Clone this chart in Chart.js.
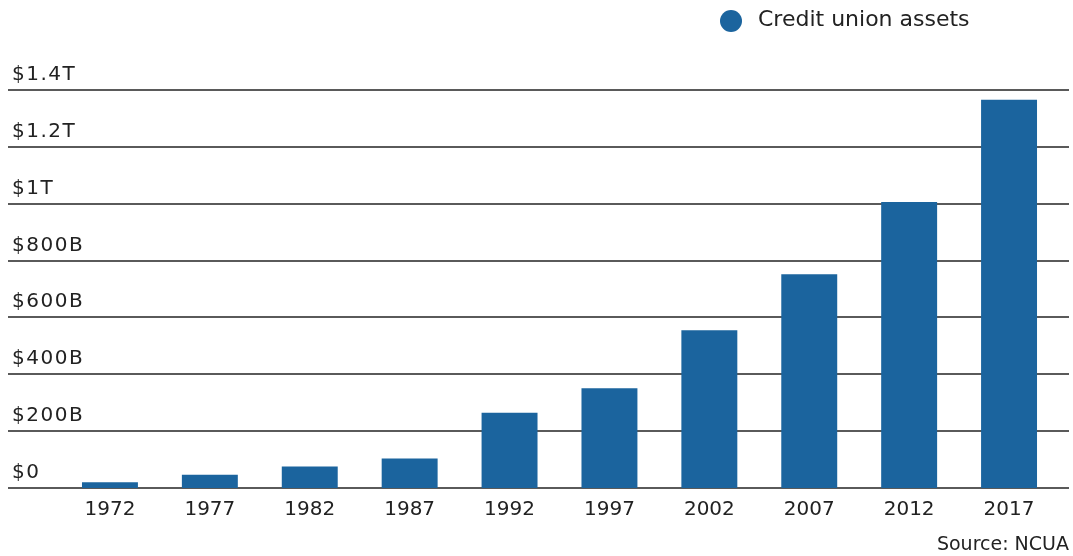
<!DOCTYPE html>
<html>
<head>
<meta charset="utf-8">
<title>Credit union assets</title>
<script src="https://cdn.jsdelivr.net/npm/chart.js@4"></script>
<style>
  html, body { margin: 0; padding: 0; background: #fff; }
  #wrap { width: 1073px; height: 556px; position: relative; }
</style>
</head>
<body>
<div id="wrap"><canvas id="assetsChart"></canvas></div>
<script>
// assets in billions of dollars, every five years
var years = ['1972', '1977', '1982', '1987', '1992', '1997', '2002', '2007', '2012', '2017'];
var assets = [20, 47, 76, 104, 265, 351, 555, 752, 1006, 1366];

var yTicks = [0, 200, 400, 600, 800, 1000, 1200, 1400];
var yTickLabels = ['$0', '$200B', '$400B', '$600B', '$800B', '$1T', '$1.2T', '$1.4T'];

var seriesName = 'Credit union assets';
var sourceNote = 'Source: NCUA';

var barColor = '#1b649e';
var textColor = '#222';
var fontFamily = '"DejaVu Sans", sans-serif';

// grid lines run the full width with the value labels sitting on top of them
var gridAndLabels = {
    id: 'gridAndLabels',
    beforeDatasetsDraw: function (chart) {
        var ctx = chart.ctx;
        var y = chart.scales.y;
        ctx.save();
        yTicks.forEach(function (v, i) {
            var py = Math.round(y.getPixelForValue(v));
            ctx.strokeStyle = '#5a5a5a';
            ctx.lineWidth = 2;
            ctx.beginPath();
            ctx.moveTo(8, py);
            ctx.lineTo(1069, py);
            ctx.stroke();

            ctx.fillStyle = textColor;
            ctx.font = '20px ' + fontFamily;
            ctx.letterSpacing = '1.5px';
            ctx.textAlign = 'left';
            ctx.textBaseline = 'alphabetic';
            ctx.fillText(yTickLabels[i], 12, py - 10);
        });
        ctx.restore();
    },
    afterDraw: function (chart) {
        var ctx = chart.ctx;
        ctx.save();
        // legend
        ctx.fillStyle = barColor;
        ctx.beginPath();
        ctx.arc(731, 21, 11, 0, Math.PI * 2);
        ctx.fill();
        ctx.fillStyle = textColor;
        ctx.font = '22px ' + fontFamily;
        ctx.textAlign = 'left';
        ctx.textBaseline = 'middle';
        ctx.fillText(seriesName, 758, 20);
        // source note
        ctx.font = '19px ' + fontFamily;
        ctx.textAlign = 'right';
        ctx.fillText(sourceNote, 1069, 545);
        ctx.restore();
    }
};

new Chart(document.getElementById('assetsChart'), {
    type: 'bar',
    data: {
        labels: years,
        datasets: [{
            label: seriesName,
            data: assets,
            backgroundColor: barColor,
            borderWidth: 0,
            barPercentage: 0.56,
            categoryPercentage: 1
        }]
    },
    options: {
        responsive: true,
        maintainAspectRatio: false,
        animation: false,
        layout: {
            padding: { left: 60, right: 14, top: 90, bottom: 24 }
        },
        plugins: {
            legend: { display: false },
            tooltip: { enabled: false }
        },
        scales: {
            x: {
                grid: { display: false, drawTicks: false },
                border: { display: false },
                ticks: {
                    color: textColor,
                    padding: 10,
                    font: { family: fontFamily, size: 20 }
                }
            },
            y: {
                display: false,
                min: 0,
                max: 1400
            }
        }
    },
    plugins: [gridAndLabels]
});
</script>
</body>
</html>
